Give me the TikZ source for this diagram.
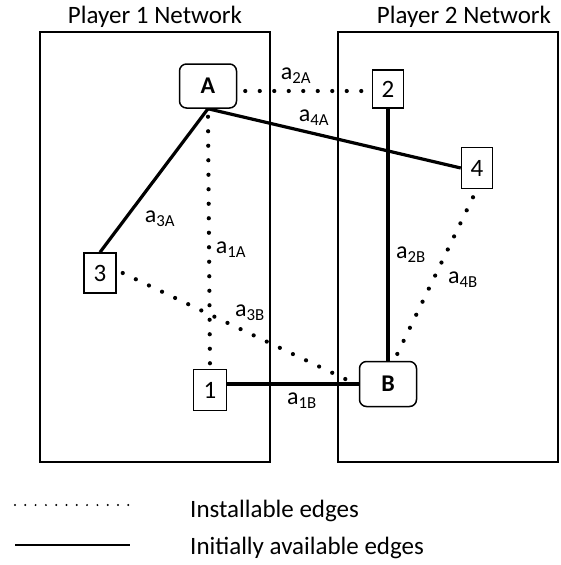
\documentclass[tikz,border=0pt]{standalone}
\usepackage{fontspec}
\setmainfont{Carlito}
\pgfdeclarelayer{background}
\pgfsetlayers{background,main}
\begin{document}
\begin{tikzpicture}[x=1pt,y=-1pt,
  every node/.style={font=\fontsize{25}{29}\selectfont},
  netbox/.style={draw,line width=1.8pt},
  sq/.style={draw,line width=1.5pt,fill=white,inner sep=0pt},
  rnd/.style={draw,line width=1.5pt,fill=white,rounded corners=7pt,inner sep=0pt,font=\fontsize{24}{28}\selectfont\bfseries},
  solidedge/.style={line width=3.2pt},
  dotedge/.style={line width=4.2pt,line cap=round,dash pattern=on 0pt off 14.5pt},
  lbl/.style={inner sep=0pt,font=\fontsize{24}{28}\selectfont}]
\useasboundingbox (0,0) rectangle (560,565);
\draw[netbox] (40,32) rectangle (270,462);
\draw[netbox] (338,32) rectangle (558,462);
\node (t1) at (155,17) {Player 1 Network};
\node (t2) at (464,17) {Player 2 Network};
% nodes
\node[rnd,minimum width=57pt,minimum height=44pt] (A) at (208,86) {A};
\node[rnd,minimum width=57pt,minimum height=45pt] (B) at (388,384) {B};
\node[sq,minimum width=31pt,minimum height=38pt] (n2) at (388,89) {2};
\node[sq,minimum width=31pt,minimum height=41pt] (n4) at (477,168) {4};
\node[sq,minimum width=32pt,minimum height=40pt] (n3) at (100,273) {3};
\node[sq,minimum width=33pt,minimum height=41pt] (n1) at (210,390) {1};
% edges
\begin{pgfonlayer}{background}
\draw[dotedge] ([xshift=8pt,yshift=-5pt]A.east) -- ([xshift=-4pt,yshift=-2pt]n2.west);
\draw[solidedge] (A.south) -- (n4.west);
\draw[solidedge] (A.south) -- (n3.north);
\draw[dotedge] ([yshift=-8pt]A.south) -- (n1.north);
\draw[dotedge] ([xshift=6pt]n3.east) -- ([xshift=-3pt]B.west);
\draw[solidedge] (n2.south) -- (n2.south |- B.north);
\draw[dotedge] ([yshift=-8pt,xshift=-4pt]n4.south) -- ([xshift=6pt]B.north);
\draw[solidedge] (B.west -| n1.east) -- (B.west);
\end{pgfonlayer}
% labels
\node[lbl] (l2A) at (296,76) {a\textsubscript{2A}};
\node[lbl] (l4A) at (314,118) {a\textsubscript{4A}};
\node[lbl] (l3A) at (160,219) {a\textsubscript{3A}};
\node[lbl] (l1A) at (231,250) {a\textsubscript{1A}};
\node[lbl] (l3B) at (250,313) {a\textsubscript{3B}};
\node[lbl] (l1B) at (302,401) {a\textsubscript{1B}};
\node[lbl] (l2B) at (411,255) {a\textsubscript{2B}};
\node[lbl] (l4B) at (463,280) {a\textsubscript{4B}};
% legend
\coordinate (d1) at (15,505);
\coordinate (d2) at (130,505);
\coordinate (s1) at (15,545);
\coordinate (s2) at (130,545);
\draw[line width=2.2pt,line cap=round,dash pattern=on 0pt off 10.3pt] (d1) -- (d2);
\draw[line width=2.8pt] (s1) -- (s2);
\node[anchor=west,inner sep=0pt] (leg1) at (190,511) {Installable edges};
\node[anchor=west,inner sep=0pt] (leg2) at (190,548) {Initially available edges};
\end{tikzpicture}
\end{document}
